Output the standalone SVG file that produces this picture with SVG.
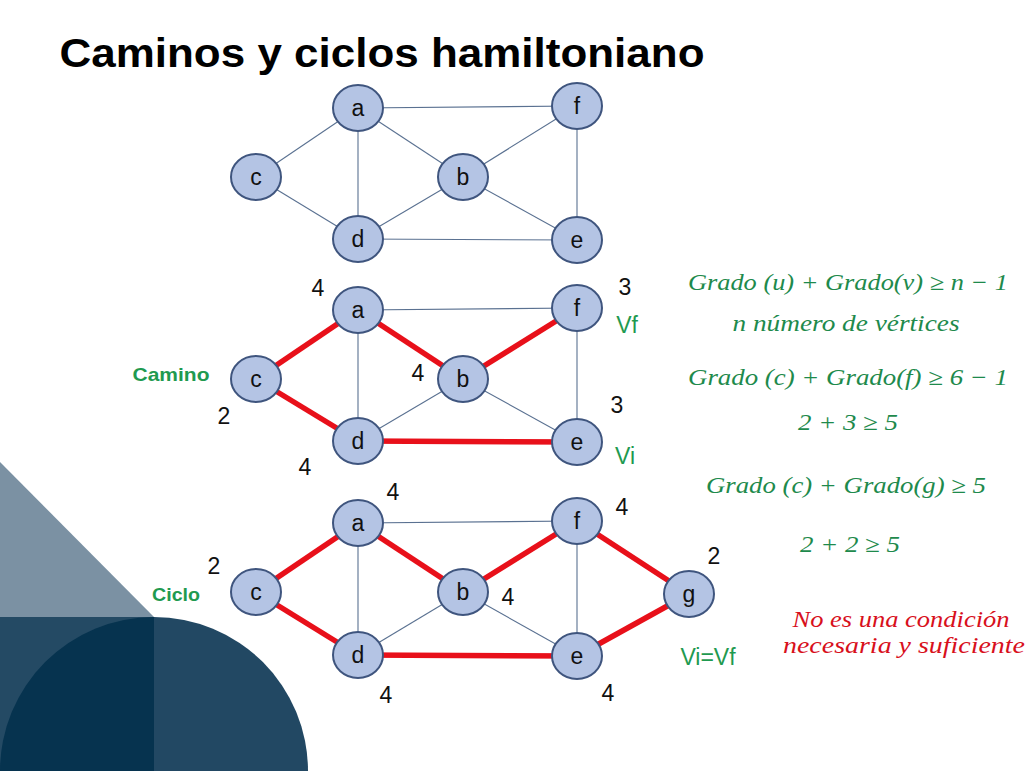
<svg xmlns="http://www.w3.org/2000/svg" width="1028" height="771" viewBox="0 0 1028 771">
<style>
.node{fill:#b4c4e4;stroke:#3f557e;stroke-width:2}
.lbl{font-family:"Liberation Sans","Open Sans",sans-serif;font-size:23px;fill:#111;text-anchor:middle}
.thin{stroke:#5a7191;stroke-width:1.1;fill:none}
.red{stroke:#e8101a;stroke-width:5.5;fill:none}
.num{font-family:"Liberation Sans","Open Sans",sans-serif;font-size:23px;fill:#111;text-anchor:middle}
.grn{font-family:"Liberation Sans","Open Sans",sans-serif;font-size:23px;fill:#1f9a50;text-anchor:middle}
.tag{font-family:"Liberation Sans","Open Sans",sans-serif;font-size:19px;font-weight:bold;fill:#1f9a50;text-anchor:middle}
.math{font-family:"Liberation Serif","DejaVu Serif",serif;font-style:italic;font-size:23px;fill:#1e8a4c;text-anchor:middle}
.mathr{font-family:"Liberation Serif","DejaVu Serif",serif;font-style:italic;font-size:23px;fill:#d8101c;text-anchor:middle}
</style>
<rect x="0" y="0" width="1028" height="771" fill="#ffffff"/>
<g id="decor">
<polygon points="0,462 154,617 0,617" fill="#7b91a3"/>
<rect x="0" y="617" width="154" height="154" fill="#244a64"/>
<path d="M154,617 A154,154 0 0 1 308,771 L154,771 Z" fill="#224863"/>
<path d="M154,771 L154,617 A154,154 0 0 0 0,771 Z" fill="#06334f"/>
</g>
<text x="382" y="67" font-family="'Liberation Sans',Arial,sans-serif" font-weight="bold" font-size="41" fill="#000" text-anchor="middle" textLength="645" lengthAdjust="spacingAndGlyphs">Caminos y ciclos hamiltoniano</text>
<g id="connectors">
<line class="thin" x1="358" y1="108" x2="577" y2="106"/>
<line class="thin" x1="358" y1="108" x2="256" y2="177"/>
<line class="thin" x1="358" y1="108" x2="463" y2="177"/>
<line class="thin" x1="358" y1="108" x2="358" y2="239"/>
<line class="thin" x1="577" y1="106" x2="463" y2="177"/>
<line class="thin" x1="577" y1="106" x2="577" y2="240"/>
<line class="thin" x1="256" y1="177" x2="358" y2="239"/>
<line class="thin" x1="463" y1="177" x2="358" y2="239"/>
<line class="thin" x1="463" y1="177" x2="577" y2="240"/>
<line class="thin" x1="358" y1="239" x2="577" y2="240"/>
<line class="thin" x1="358" y1="310" x2="577" y2="308"/>
<line class="thin" x1="358" y1="310" x2="358" y2="441"/>
<line class="thin" x1="463" y1="379" x2="358" y2="441"/>
<line class="thin" x1="463" y1="379" x2="577" y2="442"/>
<line class="thin" x1="577" y1="308" x2="577" y2="442"/>
<line class="red" x1="256" y1="379" x2="358" y2="310"/>
<line class="red" x1="256" y1="379" x2="358" y2="441"/>
<line class="red" x1="358" y1="310" x2="463" y2="379"/>
<line class="red" x1="463" y1="379" x2="577" y2="308"/>
<line class="red" x1="358" y1="441" x2="577" y2="442"/>
<line class="thin" x1="358" y1="523" x2="577" y2="521"/>
<line class="thin" x1="358" y1="523" x2="358" y2="655"/>
<line class="thin" x1="463" y1="592" x2="358" y2="655"/>
<line class="thin" x1="463" y1="592" x2="577" y2="656"/>
<line class="thin" x1="577" y1="521" x2="577" y2="656"/>
<line class="red" x1="256" y1="592" x2="358" y2="523"/>
<line class="red" x1="256" y1="592" x2="358" y2="655"/>
<line class="red" x1="358" y1="523" x2="463" y2="592"/>
<line class="red" x1="463" y1="592" x2="577" y2="521"/>
<line class="red" x1="358" y1="655" x2="577" y2="656"/>
<line class="red" x1="577" y1="521" x2="689" y2="594"/>
<line class="red" x1="689" y1="594" x2="577" y2="656"/>
</g>
<g id="g1-a"><ellipse class="node" cx="358" cy="108" rx="25" ry="23"/><text class="lbl" x="358" y="116">a</text></g>
<g id="g1-f"><ellipse class="node" cx="577" cy="106" rx="25" ry="23"/><text class="lbl" x="577" y="114">f</text></g>
<g id="g1-c"><ellipse class="node" cx="256" cy="177" rx="25" ry="23"/><text class="lbl" x="256" y="185">c</text></g>
<g id="g1-b"><ellipse class="node" cx="463" cy="177" rx="25" ry="23"/><text class="lbl" x="463" y="185">b</text></g>
<g id="g1-d"><ellipse class="node" cx="358" cy="239" rx="25" ry="23"/><text class="lbl" x="358" y="247">d</text></g>
<g id="g1-e"><ellipse class="node" cx="577" cy="240" rx="25" ry="23"/><text class="lbl" x="577" y="248">e</text></g>
<g id="g2-a"><ellipse class="node" cx="358" cy="310" rx="25" ry="23"/><text class="lbl" x="358" y="318">a</text></g>
<g id="g2-f"><ellipse class="node" cx="577" cy="308" rx="25" ry="23"/><text class="lbl" x="577" y="316">f</text></g>
<g id="g2-c"><ellipse class="node" cx="256" cy="379" rx="25" ry="23"/><text class="lbl" x="256" y="387">c</text></g>
<g id="g2-b"><ellipse class="node" cx="463" cy="379" rx="25" ry="23"/><text class="lbl" x="463" y="387">b</text></g>
<g id="g2-d"><ellipse class="node" cx="358" cy="441" rx="25" ry="23"/><text class="lbl" x="358" y="449">d</text></g>
<g id="g2-e"><ellipse class="node" cx="577" cy="442" rx="25" ry="23"/><text class="lbl" x="577" y="450">e</text></g>
<g id="g3-a"><ellipse class="node" cx="358" cy="523" rx="25" ry="23"/><text class="lbl" x="358" y="531">a</text></g>
<g id="g3-f"><ellipse class="node" cx="577" cy="521" rx="25" ry="23"/><text class="lbl" x="577" y="529">f</text></g>
<g id="g3-c"><ellipse class="node" cx="256" cy="592" rx="25" ry="23"/><text class="lbl" x="256" y="600">c</text></g>
<g id="g3-b"><ellipse class="node" cx="463" cy="592" rx="25" ry="23"/><text class="lbl" x="463" y="600">b</text></g>
<g id="g3-g"><ellipse class="node" cx="689" cy="594" rx="25" ry="23"/><text class="lbl" x="689" y="602">g</text></g>
<g id="g3-d"><ellipse class="node" cx="358" cy="655" rx="25" ry="23"/><text class="lbl" x="358" y="663">d</text></g>
<g id="g3-e"><ellipse class="node" cx="577" cy="656" rx="25" ry="23"/><text class="lbl" x="577" y="664">e</text></g>
<g id="labels2">
<text class="num" x="318" y="296">4</text>
<text class="num" x="625" y="295">3</text>
<text class="grn" x="627" y="333">Vf</text>
<text class="num" x="418" y="381">4</text>
<text class="tag" x="171" y="381" textLength="77" lengthAdjust="spacingAndGlyphs">Camino</text>
<text class="num" x="224" y="424">2</text>
<text class="num" x="617" y="413">3</text>
<text class="grn" x="625" y="464">Vi</text>
<text class="num" x="305" y="475">4</text>
</g>
<g id="labels3">
<text class="num" x="393" y="500">4</text>
<text class="num" x="622" y="515">4</text>
<text class="num" x="214" y="574">2</text>
<text class="tag" x="176" y="601" textLength="48" lengthAdjust="spacingAndGlyphs">Ciclo</text>
<text class="num" x="508" y="605">4</text>
<text class="num" x="714" y="564">2</text>
<text class="num" x="386" y="703">4</text>
<text class="num" x="608" y="701">4</text>
<text class="grn" x="708" y="665">Vi=Vf</text>
</g>
<g id="math">
<text class="math" x="848" y="290" textLength="320" lengthAdjust="spacingAndGlyphs">Grado (u) + Grado(v) ≥ n − 1</text>
<text class="math" x="846" y="331" textLength="227" lengthAdjust="spacingAndGlyphs">n número de vértices</text>
<text class="math" x="848" y="385" textLength="320" lengthAdjust="spacingAndGlyphs">Grado (c) + Grado(f) ≥ 6 − 1</text>
<text class="math" x="848" y="430" textLength="100" lengthAdjust="spacingAndGlyphs">2 + 3 ≥ 5</text>
<text class="math" x="846" y="493" textLength="280" lengthAdjust="spacingAndGlyphs">Grado (c) + Grado(g) ≥ 5</text>
<text class="math" x="850" y="552" textLength="100" lengthAdjust="spacingAndGlyphs">2 + 2 ≥ 5</text>
<text class="mathr" x="901" y="627" textLength="217" lengthAdjust="spacingAndGlyphs">No es una condición</text>
<text class="mathr" x="904" y="653" textLength="242" lengthAdjust="spacingAndGlyphs">necesaria y suficiente</text>
</g>
</svg>
